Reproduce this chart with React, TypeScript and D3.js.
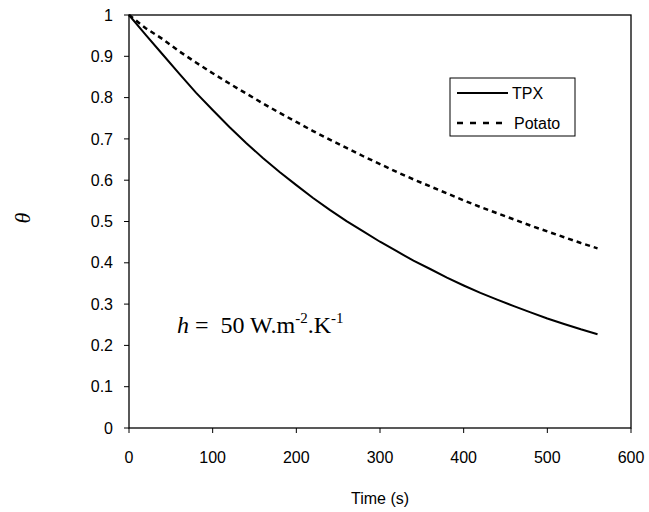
import React from "react";
import * as d3 from "d3";

// time (s)
const times = [0, 20, 40, 60, 80, 100, 120, 140, 160, 180, 200, 220, 240, 260, 280, 300, 320, 340, 360, 380, 400, 420, 440, 460, 480, 500, 520, 540, 560];
const tpx = [1.0, 0.952, 0.905, 0.858, 0.812, 0.77, 0.729, 0.69, 0.654, 0.62, 0.588, 0.557, 0.528, 0.501, 0.476, 0.451, 0.428, 0.405, 0.385, 0.364, 0.345, 0.327, 0.311, 0.295, 0.28, 0.265, 0.252, 0.239, 0.227];
const potato = [1.0, 0.968, 0.942, 0.912, 0.885, 0.859, 0.834, 0.81, 0.786, 0.763, 0.741, 0.719, 0.698, 0.678, 0.658, 0.639, 0.62, 0.602, 0.585, 0.568, 0.551, 0.535, 0.52, 0.505, 0.49, 0.476, 0.462, 0.448, 0.435];
const xTicks = [0, 100, 200, 300, 400, 500, 600];
const yTicks = [0, 0.1, 0.2, 0.3, 0.4, 0.5, 0.6, 0.7, 0.8, 0.9, 1];

const W = 649;
const H = 512;
const left = 129;
const right = 631;
const top = 15;
const bottom = 428;
const sans = "'Liberation Sans', Arial, sans-serif";
const serif = "'Liberation Serif', 'Times New Roman', serif";

export default function App() {
  const x = d3.scaleLinear().domain([0, 600]).range([left, right]);
  const y = d3.scaleLinear().domain([0, 1]).range([bottom, top]);

  const line = d3
    .line<number>()
    .x((_, i) => x(times[i]))
    .y((d) => y(d));

  return (
    <svg
      width={W}
      height={H}
      style={{ position: "absolute", left: 0, top: 0, background: "#fff" }}
    >
      <rect x={left} y={top} width={right - left} height={bottom - top} fill="none" stroke="#000" strokeWidth={1.3} />
      {yTicks.map((t) => (
        <g key={"y" + t}>
          <line x1={left - 5} x2={left} y1={y(t)} y2={y(t)} stroke="#000" />
          <text x={left - 16} y={y(t)} dy="0.35em" textAnchor="end" fontFamily={sans} fontSize={16}>
            {t}
          </text>
        </g>
      ))}
      {xTicks.map((t) => (
        <g key={"x" + t}>
          <line x1={x(t)} x2={x(t)} y1={bottom} y2={bottom + 5} stroke="#000" />
          <text x={x(t)} y={463} textAnchor="middle" fontFamily={sans} fontSize={16}>
            {t}
          </text>
        </g>
      ))}
      <path d={line(tpx) || ""} fill="none" stroke="#000" strokeWidth={2} />
      <path d={line(potato) || ""} fill="none" stroke="#000" strokeWidth={2.5} strokeDasharray="5,4" />

      <text x={(left + right) / 2} y={504} textAnchor="middle" fontFamily={sans} fontSize={16}>
        Time (s)
      </text>
      <text
        transform="translate(22,218) rotate(-90)"
        textAnchor="middle"
        dy="0.35em"
        fontFamily={serif}
        fontStyle="italic"
        fontSize={22}
      >
        θ
      </text>

      <text x={177} y={333} fontFamily={serif} fontSize={24} style={{ whiteSpace: "pre" }}>
        <tspan fontStyle="italic">h</tspan>
        <tspan>{" =  50 W.m"}</tspan>
        <tspan fontSize={15} dy={-10}>-2</tspan>
        <tspan dy={10}>.K</tspan>
        <tspan fontSize={15} dy={-10}>-1</tspan>
      </text>

      <g>
        <rect x={450} y={78} width={125} height={58} fill="#fff" stroke="#000" strokeWidth={1} />
        <line x1={457} x2={508} y1={93} y2={93} stroke="#000" strokeWidth={2} />
        <text x={512} y={99} fontFamily={sans} fontSize={16}>TPX</text>
        <line x1={457} x2={508} y1={123} y2={123} stroke="#000" strokeWidth={2.5} strokeDasharray="6,7" />
        <text x={514} y={129} fontFamily={sans} fontSize={16}>Potato</text>
      </g>
    </svg>
  );
}
